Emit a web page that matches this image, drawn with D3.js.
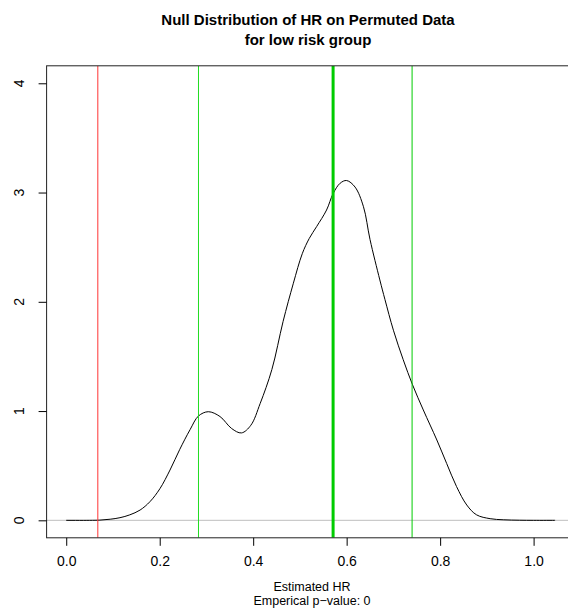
<!DOCTYPE html>
<html><head><meta charset="utf-8">
<script src="https://cdn.jsdelivr.net/npm/d3@7"></script>
<style>body{margin:0;background:#fff}svg{display:block}text{font-family:"Liberation Sans",Arial,sans-serif}</style>
</head><body><svg id="c" width="568" height="610"></svg>
<script>
const titleLines = ["Null Distribution of HR on Permuted Data", "for low risk group"];
const xLabel = "Estimated HR";
const subLabel = "Emperical p\u2212value: 0";
const xTicks = [0.0, 0.2, 0.4, 0.6, 0.8, 1.0];
const yTicks = [0, 1, 2, 3, 4];
const densX = [0.0,0.05,0.072,0.094,0.115,0.136,0.158,0.179,0.2005,0.222,0.243,0.265,0.283,0.304,0.329,0.354,0.375,0.395,0.415,0.44,0.464,0.486,0.505,0.52,0.536,0.557,0.571,0.586,0.600,0.618,0.636,0.65,0.671,0.682,0.700,0.721,0.741,0.764,0.793,0.814,0.835,0.857,0.878,0.907,0.935,0.97,1.0,1.046];
const densY = [0.0,0.0,0.002,0.01,0.024,0.05,0.094,0.17,0.29,0.46,0.65,0.83,0.955,0.994,0.95,0.84,0.80,0.87,1.07,1.38,1.82,2.17,2.44,2.58,2.69,2.84,2.99,3.085,3.11,3.05,2.87,2.57,2.20,2.02,1.74,1.47,1.24,1.01,0.735,0.52,0.31,0.14,0.05,0.015,0.005,0.001,0.0,0.0];
const observedHR = 0.0676;
const ciLower = 0.283;
const nullMean = 0.571;
const ciUpper = 0.740;

const svg = d3.select("#c");
const x = d3.scaleLinear().domain([-0.042, 1.089]).range([46.6, 575.2]);
const y = d3.scaleLinear().domain([-0.16, 4.16]).range([537.8, 65.8]);
const L = 46.6, R = 575.2, T = 65.8, B = 537.8;

svg.append("defs").append("clipPath").attr("id","clip").append("rect")
  .attr("x", L).attr("y", T).attr("width", R-L).attr("height", B-T);
const plot = svg.append("g").attr("clip-path","url(#clip)");

plot.append("line").attr("x1", L).attr("x2", R).attr("y1", y(0)).attr("y2", y(0))
  .attr("stroke", "#bebebe").attr("stroke-width", 1);

const pts = densX.map((d,i)=>[d, densY[i]]);
plot.append("path").datum(pts)
  .attr("d", d3.line().x(d=>x(d[0])).y(d=>y(d[1])).curve(d3.curveCatmullRom.alpha(0.5)))
  .attr("fill","none").attr("stroke","#000").attr("stroke-width",1);

const vlines = [
  {v: observedHR, c: "#ff3333", w: 1},
  {v: ciLower, c: "#22dd22", w: 1},
  {v: nullMean, c: "#00cc00", w: 3},
  {v: ciUpper, c: "#00cc00", w: 1}
];
plot.selectAll("line.v").data(vlines).enter().append("line").attr("class","v")
  .attr("x1", d=>x(d.v)).attr("x2", d=>x(d.v)).attr("y1", T).attr("y2", B)
  .attr("stroke", d=>d.c).attr("stroke-width", d=>d.w);

svg.append("rect").attr("x", L).attr("y", T).attr("width", R-L).attr("height", B-T)
  .attr("fill","none").attr("stroke","#222").attr("stroke-width",1);

const xa = svg.append("g").attr("transform", `translate(0,${B})`)
  .call(d3.axisBottom(x).tickValues(xTicks).tickFormat(d3.format(".1f")).tickSize(8).tickPadding(10));
xa.select(".domain").remove();
xa.selectAll("text").attr("font-size", 14).attr("fill","#000");
xa.selectAll("line").attr("stroke","#000");

const ya = svg.append("g").attr("transform", `translate(${L},0)`)
  .call(d3.axisLeft(y).tickValues(yTicks).tickFormat(d3.format("d")).tickSize(8).tickPadding(0));
ya.select(".domain").remove();
ya.selectAll("line").attr("stroke","#000");
ya.selectAll("text").remove();
svg.append("g").selectAll("text").data(yTicks).enter().append("text")
  .attr("transform", d=>`translate(24,${y(d)}) rotate(-90)`)
  .attr("text-anchor","middle").attr("font-size",14).text(d=>d);

svg.append("g").selectAll("text").data(titleLines).enter().append("text")
  .attr("x", 308).attr("y", (d,i)=>25 + i*20).attr("text-anchor","middle")
  .attr("font-weight","bold").attr("font-size",15).text(d=>d);

svg.append("text").attr("x", 312).attr("y", 591).attr("text-anchor","middle").attr("font-size",12.5).text(xLabel);
svg.append("text").attr("x", 312).attr("y", 605).attr("text-anchor","middle").attr("font-size",12.5).text(subLabel);
</script></body></html>
